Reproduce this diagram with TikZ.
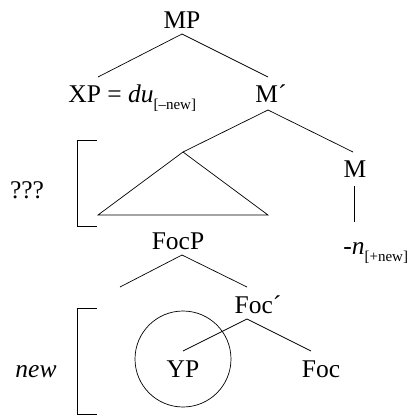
\documentclass[tikz,border=0pt]{standalone}
\usepackage{fontspec}
\setmainfont{Liberation Serif}
\newcommand{\fsub}[1]{\raisebox{-7pt}{\fontsize{15}{15}\selectfont #1}}
\begin{document}
\begin{tikzpicture}[x=1pt,y=-1pt,line width=0.7pt,
  lbl/.style={anchor=base, inner sep=0pt, font=\fontsize{25.5}{30}\selectfont}]
\useasboundingbox (0,0) rectangle (414,416);
% text nodes
\node[lbl] (mp) at (182,28) {MP};
\node[lbl, anchor=base west] (xp) at (68,102) {XP = \textit{du}\fsub{[–new]}};
\node[lbl] (mbar) at (271,102) {M´};
\node[lbl] (m) at (355,177) {M};
\node[lbl, anchor=base west] (n) at (343,254) {-\textit{n}\fsub{[+new]}};
\node[lbl] (q) at (27,198) {???};
\node[lbl] (focp) at (178,249) {FocP};
\node[lbl] (focbar) at (258,313) {Foc´};
\node[lbl] (yp) at (183,377) {YP};
\node[lbl] (foc) at (321,377) {Foc};
\node[lbl] (new) at (36,377) {\textit{new}};
% branch points
\coordinate (mpB) at (182,34);
\coordinate (xpT) at (98,77);
\coordinate (mbT) at (268,77);
\coordinate (mbB) at (268,110);
\coordinate (triTop) at (183,152);
\coordinate (triL) at (98,215);
\coordinate (triR) at (268,215);
\coordinate (mT) at (353,152);
\coordinate (mB) at (354,186);
\coordinate (nT) at (354,222);
\coordinate (fpB) at (182,255);
\coordinate (fpL) at (120,287);
\coordinate (fbT) at (247,287);
\coordinate (fbB) at (247,319);
\coordinate (ypT) at (183,351);
\coordinate (focT) at (311,351);
% tree lines
\draw (xpT) -- (mpB) -- (mbT);
\draw (triTop) -- (mbB) -- (mT);
\draw (triTop) -- (triL) -- (triR) -- cycle;
\draw (mB) -- (nT);
\draw (fpL) -- (fpB) -- (fbT);
\draw (ypT) -- (fbB) -- (focT);
% circle
\node[draw, circle, minimum size=96pt, inner sep=0pt] (circ) at (183,359) {};
% brackets
\coordinate (b1a) at (97,140);
\coordinate (b1b) at (97,226);
\draw (b1a) -- ++(-20,0) |- (b1b);
\coordinate (b2a) at (97,308);
\coordinate (b2b) at (97,414);
\draw (b2a) -- ++(-20,0) |- (b2b);
\end{tikzpicture}
\end{document}
